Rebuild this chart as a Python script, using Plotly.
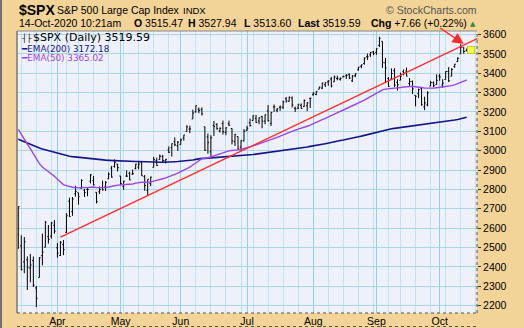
import plotly.graph_objects as go

# ---- S&P 500 daily bars, 13-Mar-2020 .. 14-Oct-2020 ----
dates = [
    "2020-03-13", "2020-03-16", "2020-03-17", "2020-03-18", "2020-03-19", "2020-03-20", "2020-03-23",
    "2020-03-24", "2020-03-25", "2020-03-26", "2020-03-27", "2020-03-30", "2020-03-31",
    "2020-04-01", "2020-04-02", "2020-04-03", "2020-04-06", "2020-04-07", "2020-04-08", "2020-04-09",
    "2020-04-13", "2020-04-14", "2020-04-15", "2020-04-16", "2020-04-17", "2020-04-20", "2020-04-21",
    "2020-04-22", "2020-04-23", "2020-04-24", "2020-04-27", "2020-04-28", "2020-04-29", "2020-04-30",
    "2020-05-01", "2020-05-04", "2020-05-05", "2020-05-06", "2020-05-07", "2020-05-08", "2020-05-11",
    "2020-05-12", "2020-05-13", "2020-05-14", "2020-05-15", "2020-05-18", "2020-05-19", "2020-05-20",
    "2020-05-21", "2020-05-22", "2020-05-26", "2020-05-27", "2020-05-28", "2020-05-29",
    "2020-06-01", "2020-06-02", "2020-06-03", "2020-06-04", "2020-06-05", "2020-06-08", "2020-06-09",
    "2020-06-10", "2020-06-11", "2020-06-12", "2020-06-15", "2020-06-16", "2020-06-17", "2020-06-18",
    "2020-06-19", "2020-06-22", "2020-06-23", "2020-06-24", "2020-06-25", "2020-06-26", "2020-06-29",
    "2020-06-30",
    "2020-07-01", "2020-07-02", "2020-07-06", "2020-07-07", "2020-07-08", "2020-07-09", "2020-07-10",
    "2020-07-13", "2020-07-14", "2020-07-15", "2020-07-16", "2020-07-17", "2020-07-20", "2020-07-21",
    "2020-07-22", "2020-07-23", "2020-07-24", "2020-07-27", "2020-07-28", "2020-07-29", "2020-07-30",
    "2020-07-31",
    "2020-08-03", "2020-08-04", "2020-08-05", "2020-08-06", "2020-08-07", "2020-08-10", "2020-08-11",
    "2020-08-12", "2020-08-13", "2020-08-14", "2020-08-17", "2020-08-18", "2020-08-19", "2020-08-20",
    "2020-08-21", "2020-08-24", "2020-08-25", "2020-08-26", "2020-08-27", "2020-08-28", "2020-08-31",
    "2020-09-01", "2020-09-02", "2020-09-03", "2020-09-04", "2020-09-08", "2020-09-09", "2020-09-10",
    "2020-09-11", "2020-09-14", "2020-09-15", "2020-09-16", "2020-09-17", "2020-09-18", "2020-09-21",
    "2020-09-22", "2020-09-23", "2020-09-24", "2020-09-25", "2020-09-28", "2020-09-29", "2020-09-30",
    "2020-10-01", "2020-10-02", "2020-10-05", "2020-10-06", "2020-10-07", "2020-10-08", "2020-10-09",
    "2020-10-12", "2020-10-13", "2020-10-14",
]

opens = [
    2569.99, 2508.59, 2425.66, 2436.50, 2393.48, 2431.94, 2290.71, 2344.44, 2457.77, 2501.29, 2555.87, 2558.98, 2614.69,
    2498.08, 2458.54, 2514.92, 2578.28, 2738.65, 2685.00, 2776.99, 2782.46, 2805.10, 2795.64, 2799.34, 2842.43, 2845.62,
    2784.81, 2787.89, 2810.42, 2812.64, 2854.65, 2909.96, 2918.46, 2930.91,
    2869.09, 2815.01, 2868.88, 2883.14, 2878.26, 2908.83, 2915.46, 2939.50, 2865.86, 2794.54, 2829.95, 2913.86, 2948.59,
    2953.63, 2969.95, 2948.05, 3004.08, 3015.65, 3046.61, 3025.17,
    3031.15, 3064.78, 3098.90, 3111.56, 3163.84, 3199.92, 3213.32, 3213.42, 3123.53, 3071.04, 2993.76, 3131.00, 3136.13,
    3101.64, 3140.29, 3094.42, 3138.70, 3114.40, 3046.60, 3073.20, 3018.59, 3050.20,
    3105.92, 3143.64, 3155.29, 3166.44, 3153.07, 3176.17, 3152.47, 3205.08, 3141.11, 3225.98, 3208.36, 3224.21, 3224.29,
    3268.52, 3254.86, 3271.64, 3218.58, 3219.84, 3234.27, 3227.22, 3231.76, 3270.45,
    3288.26, 3289.92, 3317.37, 3323.17, 3340.05, 3356.04, 3370.34, 3355.46, 3372.95, 3368.66, 3380.86, 3387.04, 3392.51,
    3360.48, 3386.01, 3418.09, 3435.95, 3449.97, 3485.14, 3494.69, 3509.73,
    3507.44, 3543.76, 3564.74, 3453.60, 3371.88, 3369.82, 3412.56, 3352.70, 3363.56, 3407.73, 3411.23, 3346.86, 3357.38,
    3285.57, 3295.75, 3320.11, 3226.14, 3236.66, 3333.90, 3350.92, 3341.21,
    3385.87, 3338.94, 3367.27, 3408.74, 3384.56, 3434.28, 3459.67, 3500.02, 3534.01, 3515.47,
]

highs = [
    2711.33, 2562.98, 2553.93, 2453.57, 2466.97, 2453.01, 2300.73, 2449.71, 2571.42, 2637.01, 2615.91, 2631.80, 2641.39,
    2522.75, 2533.22, 2538.18, 2676.85, 2756.89, 2760.75, 2818.57, 2782.46, 2851.85, 2801.88, 2806.51, 2879.22, 2868.98,
    2785.54, 2815.10, 2844.90, 2842.71, 2887.72, 2921.15, 2954.86, 2930.91,
    2869.09, 2844.24, 2898.23, 2891.11, 2901.92, 2932.16, 2944.25, 2945.82, 2874.14, 2852.80, 2865.01, 2968.09, 2964.21,
    2980.29, 2978.50, 2956.76, 3021.72, 3036.25, 3068.67, 3049.17,
    3062.18, 3081.07, 3130.94, 3128.91, 3211.72, 3233.13, 3222.71, 3223.27, 3123.53, 3088.42, 3079.76, 3153.45, 3141.16,
    3120.00, 3155.53, 3120.92, 3154.90, 3115.01, 3086.25, 3073.73, 3053.89, 3111.51,
    3128.44, 3165.81, 3182.59, 3184.15, 3171.80, 3179.78, 3186.82, 3235.32, 3200.95, 3238.28, 3220.39, 3233.52, 3258.61,
    3277.29, 3279.32, 3279.99, 3227.26, 3241.43, 3243.72, 3264.74, 3250.92, 3272.17,
    3302.73, 3306.84, 3330.77, 3351.03, 3352.54, 3363.29, 3381.01, 3387.89, 3387.24, 3378.51, 3387.59, 3395.06, 3399.54,
    3390.80, 3399.96, 3432.09, 3444.21, 3481.07, 3501.38, 3509.23, 3514.77,
    3528.03, 3588.11, 3564.85, 3479.15, 3379.97, 3424.77, 3425.55, 3368.95, 3402.93, 3419.48, 3428.92, 3375.17, 3362.27,
    3285.57, 3320.31, 3323.35, 3278.70, 3306.88, 3360.74, 3357.92, 3393.56,
    3397.18, 3369.10, 3409.57, 3431.56, 3426.26, 3447.28, 3482.34, 3549.85, 3534.01, 3527.94,
]

lows = [
    2492.37, 2380.94, 2367.04, 2280.52, 2319.78, 2295.56, 2191.86, 2344.44, 2407.53, 2500.72, 2520.02, 2545.28, 2571.15,
    2447.49, 2455.79, 2459.96, 2574.57, 2657.67, 2663.30, 2762.36, 2721.17, 2805.10, 2761.54, 2764.32, 2830.88, 2820.43,
    2727.10, 2775.95, 2794.26, 2791.76, 2852.89, 2860.71, 2912.16, 2892.47,
    2821.61, 2797.85, 2863.55, 2847.65, 2876.48, 2902.88, 2903.44, 2869.59, 2793.15, 2766.64, 2816.78, 2913.86, 2922.35,
    2953.63, 2938.57, 2933.59, 2988.17, 2969.75, 3023.40, 2998.61,
    3031.15, 3051.64, 3098.90, 3090.41, 3163.84, 3196.00, 3193.11, 3181.49, 2999.49, 2984.47, 2965.66, 3076.06, 3108.03,
    3093.51, 3083.11, 3079.39, 3127.12, 3032.13, 3024.01, 3004.63, 2999.74, 3047.83,
    3101.17, 3124.52, 3155.29, 3142.93, 3136.53, 3115.70, 3136.22, 3149.43, 3127.66, 3200.76, 3198.59, 3205.65, 3215.16,
    3247.77, 3253.10, 3222.66, 3200.05, 3214.25, 3216.17, 3227.22, 3204.13, 3220.26,
    3284.53, 3286.37, 3317.37, 3318.14, 3328.72, 3335.44, 3326.44, 3355.46, 3363.35, 3361.64, 3379.22, 3370.15, 3369.66,
    3354.69, 3379.31, 3413.13, 3425.84, 3444.15, 3468.35, 3484.32, 3493.25,
    3494.60, 3535.23, 3427.41, 3349.63, 3329.27, 3366.84, 3329.25, 3310.47, 3363.56, 3389.25, 3384.45, 3328.82, 3292.40,
    3229.10, 3270.95, 3232.57, 3209.45, 3228.44, 3332.91, 3327.54, 3340.47,
    3361.39, 3323.69, 3367.27, 3354.54, 3384.56, 3428.15, 3458.07, 3499.61, 3500.86, 3513.60,
]

closes = [
    2711.02, 2386.13, 2529.19, 2398.10, 2409.39, 2304.92, 2237.40, 2447.33, 2475.56, 2630.07, 2541.47, 2626.65, 2584.59,
    2470.50, 2526.90, 2488.65, 2663.68, 2659.41, 2749.98, 2789.82, 2761.63, 2846.06, 2783.36, 2799.55, 2874.56, 2823.16,
    2736.56, 2799.31, 2797.80, 2836.74, 2878.48, 2863.39, 2939.51, 2912.43,
    2830.71, 2842.74, 2868.44, 2848.42, 2881.19, 2929.80, 2930.19, 2870.12, 2820.00, 2852.50, 2863.70, 2953.91, 2922.94,
    2971.61, 2948.51, 2955.45, 2991.77, 3036.13, 3029.73, 3044.31,
    3055.73, 3080.82, 3122.87, 3112.35, 3193.93, 3232.39, 3207.18, 3190.14, 3002.10, 3041.31, 3066.59, 3124.74, 3113.49,
    3115.34, 3097.74, 3117.86, 3131.29, 3050.33, 3083.76, 3009.05, 3053.24, 3100.29,
    3115.86, 3130.01, 3179.72, 3145.32, 3169.94, 3152.05, 3185.04, 3155.22, 3197.52, 3226.56, 3215.57, 3224.73, 3251.84,
    3257.30, 3276.02, 3235.66, 3215.63, 3239.41, 3218.44, 3258.44, 3246.22, 3271.12,
    3294.61, 3306.51, 3327.77, 3349.16, 3351.28, 3360.47, 3333.69, 3380.35, 3373.43, 3372.85, 3381.99, 3389.78, 3374.85,
    3385.51, 3397.16, 3431.28, 3443.62, 3478.73, 3484.55, 3508.01, 3500.31,
    3526.65, 3580.84, 3455.06, 3426.96, 3331.84, 3398.96, 3339.19, 3340.97, 3383.54, 3401.20, 3385.49, 3357.01, 3319.47,
    3281.06, 3315.57, 3236.92, 3246.59, 3298.46, 3351.60, 3335.47, 3363.00,
    3380.80, 3348.42, 3408.60, 3360.97, 3419.44, 3446.83, 3477.14, 3534.22, 3511.93, 3519.59,
]

# 200-day exponential moving average, one value per bar
ema200 = [
    3059, 3052, 3047, 3041, 3035, 3028, 3020, 3014, 3009, 3005, 3000, 2996, 2992,
    2987, 2982, 2977, 2974, 2971, 2969, 2967, 2965, 2964, 2962, 2960, 2959, 2958,
    2956, 2954, 2952, 2951, 2950, 2949, 2949, 2949,
    2948, 2947, 2946, 2945, 2944, 2944, 2944, 2943, 2942, 2941, 2940, 2940, 2940,
    2940, 2940, 2940, 2941, 2942, 2943, 2944,
    2945, 2946, 2948, 2950, 2952, 2955, 2958, 2960, 2960, 2961, 2962, 2964, 2965,
    2967, 2968, 2970, 2971, 2972, 2973, 2973, 2974, 2975,
    2977, 2978, 2980, 2982, 2984, 2985, 2987, 2989, 2991, 2993, 2996, 2998, 3000,
    3003, 3006, 3008, 3010, 3012, 3014, 3017, 3019, 3022,
    3024, 3027, 3030, 3033, 3036, 3040, 3043, 3046, 3049, 3052, 3055, 3059, 3062,
    3065, 3068, 3072, 3075, 3079, 3083, 3088, 3092,
    3096, 3101, 3104, 3108, 3110, 3113, 3115, 3117, 3120, 3123, 3125, 3128, 3130,
    3131, 3133, 3134, 3135, 3137, 3139, 3141, 3143,
    3145, 3147, 3150, 3152, 3155, 3158, 3161, 3165, 3168, 3172.18,
]

# 50-day exponential moving average, one value per bar
ema50 = [
    3110, 3082, 3060, 3034, 3010, 2982, 2953, 2933, 2915, 2904, 2890, 2880, 2868,
    2852, 2839, 2825, 2819, 2813, 2811, 2810, 2808, 2810, 2809, 2809, 2811, 2812,
    2809, 2808, 2808, 2809, 2812, 2814, 2819, 2822,
    2823, 2824, 2825, 2826, 2828, 2832, 2836, 2837, 2837, 2837, 2838, 2843, 2846,
    2851, 2855, 2859, 2864, 2871, 2877, 2884,
    2891, 2898, 2907, 2915, 2926, 2938, 2949, 2958, 2960, 2963, 2967, 2973, 2979,
    2984, 2988, 2993, 2999, 3001, 3004, 3004, 3006, 3010,
    3014, 3019, 3025, 3030, 3035, 3040, 3046, 3050, 3056, 3063, 3069, 3075, 3082,
    3089, 3096, 3102, 3106, 3111, 3115, 3121, 3126, 3132,
    3138, 3145, 3152, 3160, 3167, 3175, 3181, 3189, 3196, 3203, 3210, 3217, 3223,
    3229, 3236, 3244, 3252, 3261, 3270, 3279, 3288,
    3297, 3308, 3314, 3318, 3319, 3322, 3323, 3324, 3326, 3329, 3331, 3332, 3332,
    3330, 3329, 3326, 3323, 3322, 3323, 3323, 3325,
    3327, 3328, 3331, 3332, 3336, 3340, 3345, 3353, 3359, 3365.02,
]

# hand-drawn support trendline (two anchor points)
trend_dates = ["2020-04-02", "2020-10-21"]
trend_values = [2553, 3590]

# market holidays inside the window (removed from the time axis)
holidays = ["2020-04-10", "2020-05-25", "2020-07-03", "2020-09-07"]

month_ticks = ["2020-04-01", "2020-05-01", "2020-06-01", "2020-07-01",
               "2020-08-03", "2020-09-01", "2020-10-01"]
month_labels = ["Apr", "May", "Jun", "Jul", "Aug", "Sep", "Oct"]
price_ticks = [2200, 2300, 2400, 2500, 2600, 2700, 2800, 2900,
               3000, 3100, 3200, 3300, 3400, 3500, 3600]

# ---- page geometry (pixels) ----
W, H = 524, 328
ML, MR, MT, MB = 17, 47, 31, 15
PW, PH = W - ML - MR, H - MT - MB


def px(x):
    return (x - ML) / PW


def py(y):
    return (H - MB - y) / PH


TAN = "#F2D398"
PLOT_BG = "#EEF0FA"
NAVY = "#15158A"
PURPLE = "#9B45E4"
RED = "#FF2B2B"
SANS = "Liberation Sans, Arial, sans-serif"
VERD = "DejaVu Sans, Verdana, sans-serif"

fig = go.Figure()

fig.add_trace(go.Ohlc(
    x=dates, open=opens, high=highs, low=lows, close=closes,
    increasing=dict(line=dict(color="#000000", width=1)),
    decreasing=dict(line=dict(color="#000000", width=1)),
    tickwidth=0.4, hoverinfo="skip", showlegend=False,
))
fig.add_trace(go.Scatter(x=dates, y=ema200, mode="lines",
                         line=dict(color=NAVY, width=1.6),
                         hoverinfo="skip", showlegend=False))
fig.add_trace(go.Scatter(x=dates, y=ema50, mode="lines",
                         line=dict(color=PURPLE, width=1.4),
                         hoverinfo="skip", showlegend=False))
fig.add_trace(go.Scatter(x=trend_dates, y=trend_values, mode="lines",
                         line=dict(color=RED, width=1.4),
                         hoverinfo="skip", showlegend=False))

fig.update_xaxes(
    type="date",
    range=["2020-03-12 13:40", "2020-10-19 10:00"],
    rangebreaks=[dict(bounds=["sat", "mon"]), dict(values=holidays)],
    rangeslider=dict(visible=False),
    tickvals=month_ticks, ticktext=month_labels,
    showgrid=True, gridcolor="#8FCDE8", gridwidth=1,
    minor=dict(dtick=7 * 86400000, tick0="2020-03-16", showgrid=True,
               gridcolor="#BDE3F0", gridwidth=1),
    ticks="", tickfont=dict(family=SANS, size=10.5, color="#000000"),
    showline=False, zeroline=False, fixedrange=True, automargin=False,
)
fig.update_yaxes(
    side="right",
    range=[2161.5, 3618],
    tickvals=price_ticks, ticktext=[str(v) for v in price_ticks],
    showgrid=True, gridcolor="#A6D6EA", gridwidth=1,
    ticks="outside", ticklen=3, tickcolor="#333333", tickwidth=1,
    tickfont=dict(family=SANS, size=10.5, color="#000000"),
    showline=False, zeroline=False, fixedrange=True, automargin=False,
)

last_close = closes[-1]
prev_close = closes[-2]
chg = last_close - prev_close
chg_pct = chg / prev_close * 100

annotations = [
    # title block
    dict(x=px(17), y=py(10), text="<b>$SPX</b>", font=dict(family=SANS, size=14, color="#000000")),
    dict(x=px(55), y=py(10.5), text="S&P 500 Large Cap Index", font=dict(family=SANS, size=10.5, color="#000000")),
    dict(x=px(181), y=py(10.5), text="INDX", font=dict(family=SANS, size=9.5, color="#000000")),
    dict(x=px(17), y=py(23.5), text="14-Oct-2020 10:21am", font=dict(family=SANS, size=10.5, color="#000000")),
    dict(x=px(132), y=py(23.5), text=f"<b>O</b> {opens[-1]:.2f}", font=dict(family=SANS, size=10.5, color="#000000")),
    dict(x=px(186), y=py(23.5), text=f"<b>H</b> {highs[-1]:.2f}", font=dict(family=SANS, size=10.5, color="#000000")),
    dict(x=px(242), y=py(23.5), text=f"<b>L</b> {lows[-1]:.2f}", font=dict(family=SANS, size=10.5, color="#000000")),
    dict(x=px(296), y=py(23.5), text=f"<b>Last</b> {last_close:.2f}", font=dict(family=SANS, size=10.5, color="#000000")),
    dict(x=px(369), y=py(23.5), text=f"<b>Chg</b> {chg:+.2f} ({chg_pct:+.2f}%)",
         font=dict(family=SANS, size=10.5, color="#000000")),
    dict(x=px(468), y=py(24), text="▲", font=dict(family=VERD, size=7, color="#2E8B2E")),
    dict(x=px(384), y=py(10), text="© StockCharts.com", font=dict(family=SANS, size=10.5, color="#555555")),
    # in-chart legend
    dict(x=px(19), y=py(37.5), text="┤├", font=dict(family=VERD, size=8, color="#000000")),
    dict(x=px(31), y=py(37.5), text=f"$SPX (Daily) {last_close:.2f}",
         font=dict(family=VERD, size=11, color="#000000")),
    dict(x=px(19), y=py(48.5), text=f"━EMA(200) {ema200[-1]:.2f}",
         font=dict(family=VERD, size=8.8, color=NAVY)),
    dict(x=px(19), y=py(58.5), text=f"━EMA(50) {ema50[-1]:.2f}",
         font=dict(family=VERD, size=8.8, color=PURPLE)),
]
for a in annotations:
    a.update(xref="paper", yref="paper", xanchor="left", yanchor="middle",
             showarrow=False, align="left")

# red pointer arrow onto the trendline
annotations.append(dict(
    x="2020-10-13", y=3551, xref="x", yref="y", text="", showarrow=True,
    ax=-25, ay=-17, arrowhead=2, arrowsize=1.6, arrowwidth=1.4, arrowcolor=RED,
))
# last-price marker box
annotations.append(dict(
    x=dates[-1], y=last_close, xref="x", yref="y", text="", showarrow=False,
    xshift=4, width=5, height=5, bgcolor="#FFFF33", bordercolor="#A0A000", borderwidth=0.5,
))

shapes = [
    # plot frame: solid top/left, dotted right/bottom scale edges
    dict(type="line", xref="paper", yref="paper", x0=0, x1=1, y0=1, y1=1,
         line=dict(color="#888888", width=1)),
    dict(type="line", xref="paper", yref="paper", x0=0, x1=0, y0=0, y1=1,
         line=dict(color="#777777", width=1.5)),
    dict(type="line", xref="paper", yref="paper", x0=1, x1=1, y0=0, y1=1,
         line=dict(color="#555555", width=1, dash="dot")),
    dict(type="line", xref="paper", yref="paper", x0=0, x1=1, y0=0, y1=0,
         line=dict(color="#555555", width=1, dash="dot")),
    # top edge of the next panel
    dict(type="line", xref="paper", yref="paper", x0=0, x1=1, y0=py(326.5), y1=py(326.5),
         line=dict(color="#555555", width=1, dash="dot")),
    # outer page edge
    dict(type="line", xref="paper", yref="paper", x0=px(1), x1=px(1), y0=py(0), y1=py(H),
         line=dict(color="#707070", width=2)),
]

fig.update_layout(
    width=W, height=H,
    margin=dict(l=ML, r=MR, t=MT, b=MB, pad=0, autoexpand=False),
    paper_bgcolor=TAN, plot_bgcolor=PLOT_BG,
    font=dict(family=SANS, size=10.5, color="#000000"),
    showlegend=False, hovermode=False,
    annotations=annotations, shapes=shapes,
)

fig.write_html("out.html", config=dict(displayModeBar=False, staticPlot=True))
